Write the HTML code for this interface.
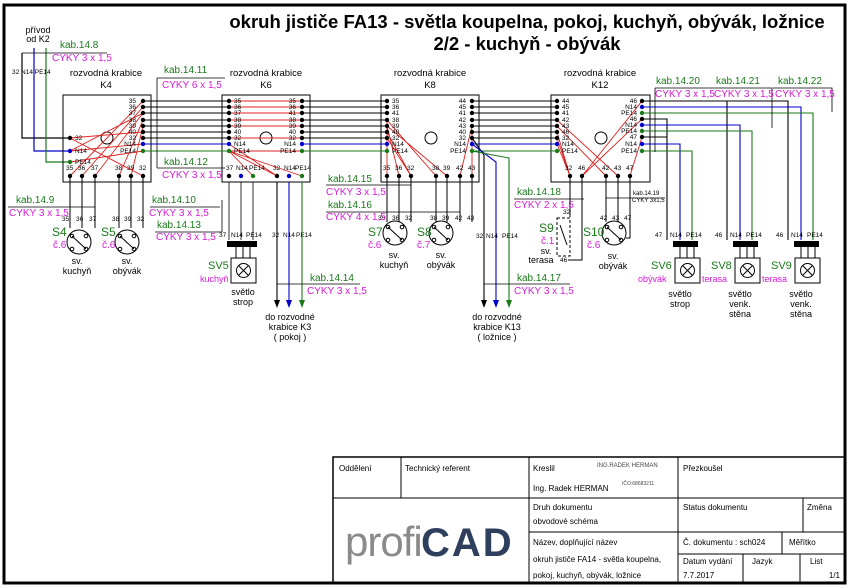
<!DOCTYPE html>
<html><head><meta charset="utf-8"><style>
html,body{margin:0;padding:0;background:#fff}
svg{display:block}
text{font-family:"Liberation Sans",Arial,sans-serif}
.g{fill:#1a7a1a;font-size:10px}
.m{fill:#d81ad8;font-size:10px}
.t{font-size:6.5px;fill:#000}
.s{font-size:9px;fill:#000}
.tb{font-size:8px;fill:#000}
</style></head><body>
<svg width="852" height="588" viewBox="0 0 852 588" xmlns="http://www.w3.org/2000/svg">
<rect x="4" y="5" width="841" height="578" fill="#fff" stroke="#000" stroke-width="3"/>
<text x="527" y="28" font-size="18.5" font-weight="bold" text-anchor="middle">okruh jističe FA13 - světla koupelna, pokoj, kuchyň, obývák, ložnice</text>
<text x="527" y="50" font-size="18.5" font-weight="bold" text-anchor="middle">2/2 - kuchyň - obývák</text>

<text x="38" y="33" class="s" text-anchor="middle">přívod</text>
<text x="38" y="42" class="s" text-anchor="middle">od K2</text>
<g fill="none" stroke-width="1.2">
<path d="M22 53V138H70" stroke="#000"/>
<path d="M34 48V151H70" stroke="#0000cc"/>
<path d="M46 48V162H70" stroke="#1a7a1a"/>
<path d="M22 53H107" stroke="#000" stroke-width="0.8"/>
</g>
<text x="60" y="48" class="g">kab.14.8</text>
<text x="52" y="61" class="m">CYKY 3 x 1,5</text>
<text x="12" y="74" class="t">32 N14  PE14</text>

<g fill="none" stroke="#000" stroke-width="1">
<rect x="63" y="95" width="88" height="87"/>
<rect x="222" y="95" width="88" height="87"/>
<rect x="381" y="95" width="98" height="87"/>
<rect x="551" y="95" width="99" height="87"/>
<circle cx="107" cy="138" r="6"/><circle cx="266" cy="138" r="6"/><circle cx="431" cy="138" r="6"/><circle cx="601" cy="138" r="6"/>
</g>
<g font-size="9.5" text-anchor="middle">
<text x="106" y="76">rozvodná krabice</text><text x="106" y="88">K4</text>
<text x="266" y="76">rozvodná krabice</text><text x="266" y="88">K6</text>
<text x="430" y="76">rozvodná krabice</text><text x="430" y="88">K8</text>
<text x="600" y="76">rozvodná krabice</text><text x="600" y="88">K12</text>
</g>

<g stroke-width="1.1" fill="none">
<path stroke="#000" d="M143 101H229M143 107H229M143 113H229M143 120H229M143 126H229M143 132H229M143 138H229
M302 101H387M302 107H387M302 113H387M302 120H387M302 126H387M302 132H387M302 138H387
M472 101H557M472 107H557M472 113H557M472 120H557M472 126H557M472 132H557M472 138H557"/>
<path stroke="#0000cc" d="M143 144H229M302 144H387M472 144H557"/>
<path stroke="#1a7a1a" d="M143 151H229M302 151H387M472 151H557"/>
</g>
<g stroke="#e02020" stroke-width="0.9" fill="none">
<path d="M143 101L70 176M143 107L82 176M143 113L95 176M143 120L119 176M143 126L131 176M143 132L70 138M70 138L143 176M70 151L143 144M70 162L143 151M143 113L70 151"/>
<path d="M229 101H302M229 107H302M229 120H302M229 126H302M229 138H302M229 151H302M229 144L277 176M229 151L253 176M229 151L302 176M229 151L277 176M229 113L302 113"/>
<path d="M387 120L387 176M387 120L436 176M387 126L447 176M387 126L399 176M387 138L411 176M472 126L460 176M472 132L472 176M387 132L411 176"/>
<path d="M557 120L618 176M557 126L606 176M557 132L570 176M557 144L570 176M642 101L582 176M642 119L582 176M642 137L630 176M557 138L570 176"/>
</g>
<g fill="#000">
<circle cx="143" cy="101" r="2.2"/><circle cx="143" cy="107" r="2.2"/><circle cx="143" cy="113" r="2.2"/><circle cx="143" cy="120" r="2.2"/><circle cx="143" cy="126" r="2.2"/><circle cx="143" cy="132" r="2.2"/><circle cx="143" cy="138" r="2.2"/><circle cx="70" cy="138" r="2.2"/>
<circle cx="229" cy="101" r="2.2"/><circle cx="229" cy="107" r="2.2"/><circle cx="229" cy="113" r="2.2"/><circle cx="229" cy="120" r="2.2"/><circle cx="229" cy="126" r="2.2"/><circle cx="229" cy="132" r="2.2"/><circle cx="229" cy="138" r="2.2"/>
<circle cx="302" cy="101" r="2.2"/><circle cx="302" cy="107" r="2.2"/><circle cx="302" cy="113" r="2.2"/><circle cx="302" cy="120" r="2.2"/><circle cx="302" cy="126" r="2.2"/><circle cx="302" cy="132" r="2.2"/><circle cx="302" cy="138" r="2.2"/>
<circle cx="387" cy="101" r="2.2"/><circle cx="387" cy="107" r="2.2"/><circle cx="387" cy="113" r="2.2"/><circle cx="387" cy="120" r="2.2"/><circle cx="387" cy="126" r="2.2"/><circle cx="387" cy="132" r="2.2"/><circle cx="387" cy="138" r="2.2"/>
<circle cx="472" cy="101" r="2.2"/><circle cx="472" cy="107" r="2.2"/><circle cx="472" cy="113" r="2.2"/><circle cx="472" cy="120" r="2.2"/><circle cx="472" cy="126" r="2.2"/><circle cx="472" cy="132" r="2.2"/><circle cx="472" cy="138" r="2.2"/>
<circle cx="557" cy="101" r="2.2"/><circle cx="557" cy="107" r="2.2"/><circle cx="557" cy="113" r="2.2"/><circle cx="557" cy="120" r="2.2"/><circle cx="557" cy="126" r="2.2"/><circle cx="557" cy="132" r="2.2"/><circle cx="557" cy="138" r="2.2"/>
<circle cx="642" cy="101" r="2.2"/><circle cx="642" cy="119" r="2.2"/><circle cx="642" cy="137" r="2.2"/>
<circle cx="70" cy="176" r="2.2"/><circle cx="82" cy="176" r="2.2"/><circle cx="95" cy="176" r="2.2"/><circle cx="119" cy="176" r="2.2"/><circle cx="131" cy="176" r="2.2"/><circle cx="143" cy="176" r="2.2"/>
<circle cx="229" cy="176" r="2.2"/><circle cx="277" cy="176" r="2.2"/>
<circle cx="387" cy="176" r="2.2"/><circle cx="399" cy="176" r="2.2"/><circle cx="411" cy="176" r="2.2"/><circle cx="436" cy="176" r="2.2"/><circle cx="447" cy="176" r="2.2"/><circle cx="460" cy="176" r="2.2"/><circle cx="472" cy="176" r="2.2"/>
<circle cx="570" cy="176" r="2.2"/><circle cx="582" cy="176" r="2.2"/><circle cx="606" cy="176" r="2.2"/><circle cx="618" cy="176" r="2.2"/><circle cx="630" cy="176" r="2.2"/>
</g>
<g fill="#0000cc"><circle cx="70" cy="151" r="2.2"/><circle cx="143" cy="144" r="2.2"/><circle cx="229" cy="144" r="2.2"/><circle cx="302" cy="144" r="2.2"/><circle cx="387" cy="144" r="2.2"/><circle cx="472" cy="144" r="2.2"/><circle cx="557" cy="144" r="2.2"/><circle cx="642" cy="107" r="2.2"/><circle cx="642" cy="125" r="2.2"/><circle cx="642" cy="144" r="2.2"/><circle cx="241" cy="176" r="2.2"/><circle cx="289" cy="176" r="2.2"/></g>
<g fill="#1a7a1a"><circle cx="70" cy="162" r="2.2"/><circle cx="143" cy="151" r="2.2"/><circle cx="229" cy="151" r="2.2"/><circle cx="302" cy="151" r="2.2"/><circle cx="387" cy="151" r="2.2"/><circle cx="472" cy="151" r="2.2"/><circle cx="557" cy="151" r="2.2"/><circle cx="642" cy="113" r="2.2"/><circle cx="642" cy="131" r="2.2"/><circle cx="642" cy="151" r="2.2"/><circle cx="253" cy="176" r="2.2"/><circle cx="302" cy="176" r="2.2"/></g>

<g class="t">
<text x="136" y="103" text-anchor="end">35</text><text x="136" y="109" text-anchor="end">36</text><text x="136" y="115" text-anchor="end">37</text><text x="136" y="122" text-anchor="end">38</text><text x="136" y="128" text-anchor="end">39</text><text x="136" y="134" text-anchor="end">40</text><text x="136" y="140" text-anchor="end">32</text><text x="136" y="146" text-anchor="end">N14</text><text x="136" y="153" text-anchor="end">PE14</text>
<text x="75" y="140">32</text><text x="75" y="153">N14</text><text x="75" y="164">PE14</text>
<text x="66" y="170">35</text><text x="78" y="170">36</text><text x="91" y="170">37</text><text x="115" y="170">38</text><text x="127" y="170">39</text><text x="139" y="170">32</text>
<text x="234" y="103">35</text><text x="234" y="109">36</text><text x="234" y="115">37</text><text x="234" y="122">38</text><text x="234" y="128">39</text><text x="234" y="134">40</text><text x="234" y="140">32</text><text x="234" y="146">N14</text><text x="234" y="153">PE14</text>
<text x="296" y="103" text-anchor="end">35</text><text x="296" y="109" text-anchor="end">36</text><text x="296" y="115" text-anchor="end">41</text><text x="296" y="122" text-anchor="end">38</text><text x="296" y="128" text-anchor="end">39</text><text x="296" y="134" text-anchor="end">40</text><text x="296" y="140" text-anchor="end">32</text><text x="296" y="146" text-anchor="end">N14</text><text x="296" y="153" text-anchor="end">PE14</text>
<text x="226" y="170">37</text><text x="236" y="170">N14</text><text x="249" y="170">PE14</text><text x="273" y="170">32</text><text x="284" y="170">N14</text><text x="295" y="170">PE14</text>
<text x="392" y="103">35</text><text x="392" y="109">36</text><text x="392" y="115">41</text><text x="392" y="122">38</text><text x="392" y="128">39</text><text x="392" y="134">40</text><text x="392" y="140">32</text><text x="392" y="146">N14</text><text x="392" y="153">PE14</text>
<text x="466" y="103" text-anchor="end">44</text><text x="466" y="109" text-anchor="end">45</text><text x="466" y="115" text-anchor="end">41</text><text x="466" y="122" text-anchor="end">42</text><text x="466" y="128" text-anchor="end">43</text><text x="466" y="134" text-anchor="end">40</text><text x="466" y="140" text-anchor="end">32</text><text x="466" y="146" text-anchor="end">N14</text><text x="466" y="153" text-anchor="end">PE14</text>
<text x="383" y="170">35</text><text x="395" y="170">36</text><text x="407" y="170">32</text><text x="432" y="170">38</text><text x="443" y="170">39</text><text x="456" y="170">42</text><text x="468" y="170">43</text>
<text x="562" y="103">44</text><text x="562" y="109">45</text><text x="562" y="115">41</text><text x="562" y="122">42</text><text x="562" y="128">43</text><text x="562" y="134">46</text><text x="562" y="140">32</text><text x="562" y="146">N14</text><text x="562" y="153">PE14</text>
<text x="637" y="103" text-anchor="end">46</text><text x="637" y="109" text-anchor="end">N14</text><text x="637" y="115" text-anchor="end">PE14</text><text x="637" y="121" text-anchor="end">46</text><text x="637" y="127" text-anchor="end">N14</text><text x="637" y="133" text-anchor="end">PE14</text><text x="637" y="139" text-anchor="end">47</text><text x="637" y="146" text-anchor="end">N14</text><text x="637" y="153" text-anchor="end">PE14</text>
<text x="565" y="170">32</text><text x="578" y="170">46</text><text x="602" y="170">42</text><text x="614" y="170">43</text><text x="626" y="170">47</text>
</g>

<path d="M157 78V168" stroke="#000" stroke-width="0.8" fill="none"/>
<text x="164" y="73" class="g">kab.14.11</text><path d="M157 78H225" stroke="#000" stroke-width="0.8"/>
<text x="162" y="88" class="m">CYKY 6 x 1,5</text>
<text x="164" y="165" class="g">kab.14.12</text><path d="M157 168H225" stroke="#000" stroke-width="0.8"/>
<text x="162" y="178" class="m">CYKY 3 x 1,5</text>

<g stroke="#000" stroke-width="1" fill="none">
<path d="M70 176V228M82 176V228M95 176V228M119 176V228M131 176V228M143 176V228"/>
<path d="M8 207H95M150 207H220M155 232H222M222 232V200M229 182V240M241 182V240M253 182V240" stroke-width="0.8"/>
<circle cx="79" cy="242" r="12"/><circle cx="127" cy="242" r="12"/>
<path d="M72 236L86 249M120 236L134 249"/>
<circle cx="72" cy="236" r="1.8"/><circle cx="86" cy="236" r="1.8"/><circle cx="72" cy="249" r="1.8"/><circle cx="86" cy="249" r="1.8"/>
<circle cx="120" cy="236" r="1.8"/><circle cx="134" cy="236" r="1.8"/><circle cx="120" cy="249" r="1.8"/><circle cx="134" cy="249" r="1.8"/>
</g>
<g class="t"><text x="62" y="221">35</text><text x="76" y="221">36</text><text x="89" y="221">37</text><text x="112" y="221">38</text><text x="124" y="221">39</text><text x="137" y="221">32</text></g>
<text x="16" y="203" class="g">kab.14.9</text><text x="9" y="216" class="m">CYKY 3 x 1,5</text>
<text x="152" y="203" class="g">kab.14.10</text><text x="149" y="216" class="m">CYKY 3 x 1,5</text>
<text x="157" y="228" class="g">kab.14.13</text><text x="156" y="240" class="m">CYKY 3 x 1,5</text>
<text x="52" y="236" font-size="12" fill="#1a7a1a">S4</text><text x="53" y="248" font-size="10" fill="#d81ad8">č.6</text>
<text x="101" y="236" font-size="12" fill="#1a7a1a">S5</text><text x="102" y="248" font-size="10" fill="#d81ad8">č.6</text>
<text x="77" y="264" class="s" text-anchor="middle">sv.</text><text x="77" y="274" class="s" text-anchor="middle">kuchyň</text>
<text x="127" y="264" class="s" text-anchor="middle">sv.</text><text x="127" y="274" class="s" text-anchor="middle">obývák</text>

<g class="t"><text x="219" y="237">37</text><text x="231" y="237">N14</text><text x="246" y="237">PE14</text><text x="272" y="237">32</text><text x="283" y="237">N14</text><text x="296" y="237">PE14</text></g>
<rect x="227" y="241" width="30" height="6" fill="#000"/>
<path d="M236 247V258M243 247V258M250 247V258" stroke="#000"/>
<rect x="231" y="258" width="25" height="25" fill="#fff" stroke="#000"/>
<circle cx="243.5" cy="270.5" r="7" fill="none" stroke="#000"/><path d="M238.5 265.5L248.5 275.5M248.5 265.5L238.5 275.5" stroke="#000"/>
<text x="208" y="269" font-size="11" fill="#1a7a1a">SV5</text><text x="200" y="282" font-size="9" fill="#d81ad8">kuchyň</text>
<text x="243" y="295" class="s" text-anchor="middle">světlo</text><text x="243" y="305" class="s" text-anchor="middle">strop</text>

<g stroke-width="1.1" fill="none">
<path d="M277 182V300" stroke="#000"/><path d="M289 182V300" stroke="#0000cc"/><path d="M302 182V300" stroke="#1a7a1a"/>
<path d="M277 284H360" stroke="#000" stroke-width="0.8"/>
</g>
<path d="M274 300h6l-3 8z" fill="#000"/><path d="M286 300h6l-3 8z" fill="#0000cc"/><path d="M299 300h6l-3 8z" fill="#1a7a1a"/>
<text x="310" y="281" class="g">kab.14.14</text><text x="307" y="294" class="m">CYKY 3 x 1,5</text>
<text x="290" y="320" class="s" text-anchor="middle">do rozvodné</text><text x="290" y="330" class="s" text-anchor="middle">krabice K3</text><text x="290" y="340" class="s" text-anchor="middle">( pokoj )</text>

<g stroke="#000" stroke-width="1" fill="none">
<path d="M387 176V222M399 176V222M411 176V222M436 176V222M447 176V222M460 176V222M472 176V222"/>
<path d="M326 185H411M326 212H460" stroke-width="0.8"/>
<circle cx="395" cy="233" r="12"/><circle cx="441" cy="233" r="12"/>
<path d="M388 227L402 240M434 227L448 240"/>
<circle cx="388" cy="227" r="1.8"/><circle cx="402" cy="227" r="1.8"/><circle cx="388" cy="240" r="1.8"/><circle cx="402" cy="240" r="1.8"/>
<circle cx="434" cy="227" r="1.8"/><circle cx="448" cy="227" r="1.8"/><circle cx="434" cy="240" r="1.8"/><circle cx="448" cy="240" r="1.8"/>
</g>
<g class="t"><text x="378" y="220">35</text><text x="392" y="220">36</text><text x="405" y="220">32</text><text x="430" y="220">38</text><text x="442" y="220">39</text><text x="455" y="220">42</text><text x="467" y="220">43</text></g>
<text x="328" y="182" class="g">kab.14.15</text><text x="326" y="195" class="m">CYKY 3 x 1,5</text>
<text x="328" y="208" class="g">kab.14.16</text><text x="326" y="220" class="m">CYKY 4 x 1,5</text>
<text x="368" y="236" font-size="12" fill="#1a7a1a">S7</text><text x="368" y="248" font-size="10" fill="#d81ad8">č.6</text>
<text x="417" y="236" font-size="12" fill="#1a7a1a">S8</text><text x="417" y="248" font-size="10" fill="#d81ad8">č.7</text>
<text x="394" y="258" class="s" text-anchor="middle">sv.</text><text x="394" y="268" class="s" text-anchor="middle">kuchyň</text>
<text x="441" y="258" class="s" text-anchor="middle">sv.</text><text x="441" y="268" class="s" text-anchor="middle">obývák</text>

<g stroke-width="1.1" fill="none">
<path d="M472 138L484 155V300" stroke="#000"/><path d="M472 144L496 162V300" stroke="#0000cc"/><path d="M472 151L509 158V300" stroke="#1a7a1a"/>
<path d="M484 284H570" stroke="#000" stroke-width="0.8"/>
</g>
<g class="t"><text x="476" y="238">32</text><text x="486" y="238">N14</text><text x="502" y="238">PE14</text></g>
<path d="M481 300h6l-3 8z" fill="#000"/><path d="M493 300h6l-3 8z" fill="#0000cc"/><path d="M506 300h6l-3 8z" fill="#1a7a1a"/>
<text x="517" y="281" class="g">kab.14.17</text><text x="514" y="294" class="m">CYKY 3 x 1,5</text>
<text x="497" y="320" class="s" text-anchor="middle">do rozvodné</text><text x="497" y="330" class="s" text-anchor="middle">krabice K13</text><text x="497" y="340" class="s" text-anchor="middle">( ložnice )</text>

<g stroke="#000" stroke-width="1" fill="none">
<path d="M570 176V217M582 176V260H568M606 176V222M618 176V222M630 176V238H626"/>
<path d="M514 199H584M606 198H665" stroke-width="0.8"/>
<rect x="557" y="218" width="13" height="38" stroke-dasharray="3,2"/>
<path d="M560 225L567 245"/>
<circle cx="614" cy="233" r="12"/><path d="M607 227L621 240"/>
<circle cx="607" cy="227" r="1.8"/><circle cx="621" cy="227" r="1.8"/><circle cx="607" cy="240" r="1.8"/><circle cx="621" cy="240" r="1.8"/>
</g>
<text x="517" y="195" class="g">kab.14.18</text><text x="514" y="208" class="m">CYKY 2 x 1,5</text>
<text x="633" y="195" font-size="6" fill="#000">kab.14.19</text><text x="632" y="202" font-size="6" fill="#000">CYKY 3x1,5</text>
<text x="563" y="214" class="t">32</text><text x="560" y="262" class="t">46</text>
<g class="t"><text x="600" y="220">42</text><text x="612" y="220">43</text><text x="624" y="220">47</text></g>
<text x="539" y="232" font-size="12" fill="#1a7a1a">S9</text><text x="541" y="244" font-size="10" fill="#d81ad8">č.1</text>
<text x="546" y="254" class="s" text-anchor="middle">sv.</text><text x="541" y="263" class="s" text-anchor="middle">terasa</text>
<text x="583" y="236" font-size="12" fill="#1a7a1a">S10</text><text x="587" y="248" font-size="10" fill="#d81ad8">č.6</text>
<text x="613" y="259" class="s" text-anchor="middle">sv.</text><text x="613" y="269" class="s" text-anchor="middle">obývák</text>

<g fill="none" stroke-width="1.1">
<path d="M642 101H727V240M642 119H667V240M642 137H667" stroke="#000"/>
<path d="M642 101H788V240" stroke="#000"/>
<path d="M642 107H801V240M642 125H740V240M642 144H680V240" stroke="#0000cc"/>
<path d="M642 113H813V240M642 131H752V240M642 151H692V240" stroke="#1a7a1a"/>
<path d="M655 88H714M655 88V152M713 88H772V128M773 88H832V112" stroke="#000" stroke-width="0.8"/>
</g>
<text x="656" y="84" class="g">kab.14.20</text><text x="655" y="97" class="m">CYKY 3 x 1,5</text>
<text x="716" y="84" class="g">kab.14.21</text><text x="714" y="97" class="m">CYKY 3 x 1,5</text>
<text x="778" y="84" class="g">kab.14.22</text><text x="775" y="97" class="m">CYKY 3 x 1,5</text>

<g class="t"><text x="655" y="237">47</text><text x="670" y="237">N14</text><text x="686" y="237">PE14</text>
<text x="715" y="237">46</text><text x="730" y="237">N14</text><text x="746" y="237">PE14</text>
<text x="776" y="237">46</text><text x="791" y="237">N14</text><text x="807" y="237">PE14</text></g>
<rect x="673" y="241" width="25" height="6" fill="#000"/><rect x="733" y="241" width="25" height="6" fill="#000"/><rect x="794" y="241" width="25" height="6" fill="#000"/>
<g stroke="#000" fill="none">
<path d="M680 247V258M687 247V258M694 247V258M740 247V258M747 247V258M754 247V258M801 247V258M808 247V258M815 247V258"/>
<rect x="675" y="258" width="25" height="25" fill="#fff"/><rect x="735" y="258" width="25" height="25" fill="#fff"/><rect x="795" y="258" width="25" height="25" fill="#fff"/>
<circle cx="687.5" cy="270.5" r="7"/><circle cx="747.5" cy="270.5" r="7"/><circle cx="807.5" cy="270.5" r="7"/>
<path d="M682.5 265.5l10 10m0-10l-10 10M742.5 265.5l10 10m0-10l-10 10M802.5 265.5l10 10m0-10l-10 10"/>
</g>
<text x="651" y="269" font-size="11" fill="#1a7a1a">SV6</text><text x="638" y="282" font-size="9" fill="#d81ad8">obývák</text>
<text x="711" y="269" font-size="11" fill="#1a7a1a">SV8</text><text x="702" y="282" font-size="9" fill="#d81ad8">terasa</text>
<text x="771" y="269" font-size="11" fill="#1a7a1a">SV9</text><text x="762" y="282" font-size="9" fill="#d81ad8">terasa</text>
<text x="680" y="297" class="s" text-anchor="middle">světlo</text><text x="680" y="307" class="s" text-anchor="middle">strop</text>
<text x="740" y="297" class="s" text-anchor="middle">světlo</text><text x="740" y="307" class="s" text-anchor="middle">venk.</text><text x="740" y="317" class="s" text-anchor="middle">stěna</text>
<text x="801" y="297" class="s" text-anchor="middle">světlo</text><text x="801" y="307" class="s" text-anchor="middle">venk.</text><text x="801" y="317" class="s" text-anchor="middle">stěna</text>

<g stroke="#000" stroke-width="1" fill="none">
<rect x="333" y="457" width="512" height="126" stroke-width="1.5"/>
<path d="M333 498H845M401 457V498M529 457V583M678 457V583M529 532H845M803 498V532M678 554H845M743 554V583M782 532V554M800 554V583"/>
</g>
<g class="tb">
<text x="339" y="471">Oddělení</text><text x="405" y="471">Technický referent</text>
<text x="533" y="471">Kreslil</text><text x="533" y="491">Ing. Radek HERMAN</text>
<text x="683" y="471">Přezkoušel</text>
<text x="533" y="510">Druh dokumentu</text><text x="533" y="524">obvodové schéma</text>
<text x="683" y="510">Status dokumentu</text><text x="807" y="510">Změna</text>
<text x="533" y="545">Název, doplňující název</text><text x="533" y="562">okruh jističe FA14 - světla koupelna,</text><text x="533" y="578">pokoj, kuchyň, obývák, ložnice</text>
<text x="683" y="545">Č. dokumentu   : sch024</text><text x="789" y="545">Měřítko</text>
<text x="683" y="564">Datum vydání</text><text x="683" y="578">7.7.2017</text><text x="752" y="564">Jazyk</text><text x="810" y="564">List</text><text x="840" y="578" text-anchor="end">1/1</text>
</g>
<text x="597" y="467" font-size="6" font-family="Liberation Mono" fill="#444">ING.RADEK HERMAN</text>
<text x="622" y="485" font-size="5" font-family="Liberation Mono" fill="#444">IČO:68683211</text>
<text x="345" y="556" font-size="42" fill="#8a8a8a" style="letter-spacing:-1px">profi</text>
<text x="421" y="556" font-size="40" font-weight="bold" fill="#2e3f5e" style="letter-spacing:2px">CAD</text>
</svg>
</body></html>
